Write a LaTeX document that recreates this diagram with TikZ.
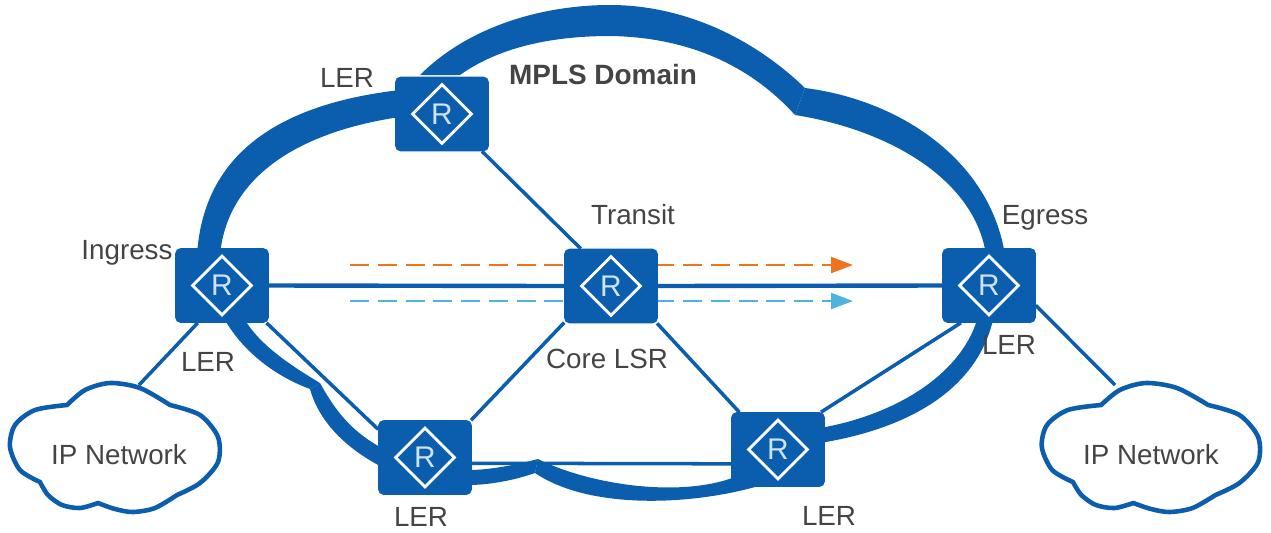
\documentclass[tikz,border=0pt]{standalone}
\usepackage{fontspec}
\setmainfont{Liberation Sans}
\usetikzlibrary{arrows.meta,shapes.geometric}
\definecolor{linkblue}{HTML}{0B5DAD}
\definecolor{rlight}{HTML}{CFE3F5}
\definecolor{labelgray}{HTML}{444444}
\definecolor{pathorange}{HTML}{EE7420}
\definecolor{pathcyan}{HTML}{4FB3E0}
\tikzset{
  routerbox/.style={fill=linkblue,rounded corners=3pt,minimum width=53.3pt,minimum height=42.5pt,inner sep=0pt,outer sep=0pt},
  routermark/.style={shape=diamond,draw=white,line width=1.6pt,minimum width=34pt,minimum height=34pt,inner sep=0pt,text=rlight,font=\fontsize{17}{17}\selectfont},
  netlabel/.style={text=labelgray,inner sep=0pt,font=\fontsize{15.8}{16}\selectfont},
  thinlink/.style={draw=linkblue,line width=2pt},
  mainlink/.style={draw=linkblue,line width=2.5pt},
  lsppath/.style={line width=1.6pt,dash pattern=on 10.8pt off 5pt,-{Triangle[length=12.5pt,width=9pt]}},
  ipcloud/.pic={
    \draw[linkblue,line width=2.6pt,fill=white,line join=round]
      plot[smooth] coordinates {(-48,-45) (-30,-60) (-5,-67) (25,-62) (55,-45)}
      -- plot[smooth] coordinates {(55,-45) (85,-35) (103,-13) (103,12) (85,33) (62,45)}
      -- plot[smooth] coordinates {(62,45) (40,58) (18,62) (0,59) (-17,53)}
      -- plot[smooth] coordinates {(-17,53) (-35,58) (-53,55) (-67,45) (-75,32)}
      -- plot[smooth] coordinates {(-75,32) (-95,20) (-105,-3) (-100,-25) (-80,-40) (-48,-45)}
      -- cycle;
  }
}
\begin{document}
\begin{tikzpicture}[x=0.02cm,y=-0.02cm]
  \useasboundingbox (0,0) rectangle (1271,532);
  % domain outline, lobe by lobe
  \fill[linkblue] (197,255) .. controls (203,160) and (270,105) .. (400,90)
    -- (400,117) .. controls (310,130) and (228,170) .. (220,255) -- cycle;
  \fill[linkblue] (420,75) .. controls (470,25) and (545,5) .. (610,5)
    .. controls (680,5) and (750,35) .. (805,88)
    -- (795,115) .. controls (745,60) and (680,37) .. (610,36)
    .. controls (545,36) and (495,50) .. (460,75) -- cycle;
  \fill[linkblue] (805,88) .. controls (900,100) and (990,160) .. (1005,255)
    -- (986,255) .. controls (975,180) and (890,130) .. (795,115) -- cycle;
  \fill[linkblue] (993,320) .. controls (975,395) and (900,430) .. (820,443)
    -- (820,428) .. controls (895,415) and (960,375) .. (977,320) -- cycle;
  \fill[linkblue] (538,459) .. controls (590,485) and (680,498) .. (735,477)
    -- (755,487) .. controls (690,505) and (590,510) .. (535,473) -- cycle;
  \fill[linkblue] (468,470) .. controls (490,470) and (515,465) .. (538,459)
    -- (535,473) .. controls (515,480) and (490,485) .. (468,485) -- cycle;
  \fill[linkblue] (225,320) .. controls (245,355) and (280,378) .. (310,389)
    -- (320,383) .. controls (290,365) and (260,345) .. (245,320) -- cycle;
  \fill[linkblue] (310,389) .. controls (320,425) and (350,450) .. (380,466)
    -- (380,447) .. controls (350,430) and (335,410) .. (320,383) -- cycle;

  \coordinate (orangestart) at (350,265);
  \coordinate (orangeend) at (853,265);
  \coordinate (cyanstart) at (350,301);
  \coordinate (cyanend) at (853,301);
  \draw[lsppath,pathorange] (orangestart) -- (orangeend);
  \draw[lsppath,pathcyan] (cyanstart) -- (cyanend);

  % routers
  \foreach \name/\x/\y in {topler/442/114,ingress/222/285.5,core/611/286,egress/989/285.5,lowleft/425/457.5,lowright/778/449.5} {
    \node[routerbox] (\name) at (\x,\y) {};
    \node[routermark] (\name-mark) at (\x,\y) {R};
  }

  \pic at (115,450) {ipcloud};
  \pic[xscale=1.04] at (1151,450) {ipcloud};
  \coordinate (leftcloudtop) at (139,385);
  \coordinate (rightcloudtop) at (1115,385);

  \draw[mainlink] (ingress.east) -- (core.west);
  \draw[mainlink] (core.east) -- (egress.west);
  \draw[thinlink] (topler.-43) -- (core.129);
  \draw[thinlink] (core.218) -- (lowleft.39);
  \draw[thinlink] (core.-39) -- (lowright.136);
  \draw[thinlink] (ingress.-40) -- (lowleft.149);
  \draw[thinlink] (lowleft.-7) -- (lowright.197);
  \draw[thinlink] (lowright.41) -- (egress.233);
  \draw[thinlink] (ingress.237) -- (leftcloudtop);
  \draw[thinlink] (egress.-23) -- (rightcloudtop);

  \node[netlabel] (lerone) at (347,78) {LER};
  \node[netlabel,font=\fontsize{15.9}{16}\selectfont\bfseries] (domain) at (603,75) {MPLS Domain};
  \node[netlabel] (inglabel) at (127,253) {Ingress};
  \node[netlabel] (translabel) at (633,215) {Transit};
  \node[netlabel] (egrlabel) at (1045,218) {Egress};
  \node[netlabel] (lertwo) at (208,362) {LER};
  \node[netlabel] (corelabel) at (607,359) {Core LSR};
  \node[netlabel] (lerthree) at (1009,345) {LER};
  \node[netlabel] (lerfour) at (421,517) {LER};
  \node[netlabel] (lerfive) at (829,516) {LER};
  \node[netlabel] (leftnet) at (119,455) {IP Network};
  \node[netlabel] (rightnet) at (1151,455) {IP Network};
\end{tikzpicture}
\end{document}
